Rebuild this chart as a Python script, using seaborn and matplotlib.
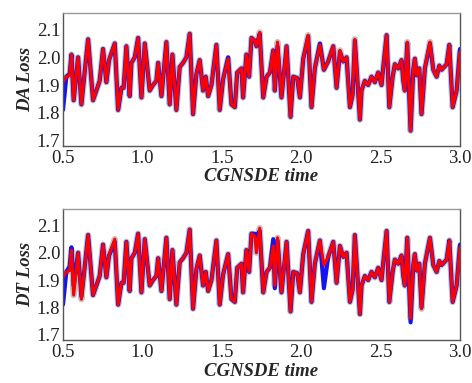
import matplotlib
matplotlib.use("Agg")
import matplotlib.pyplot as plt
import seaborn as sns
import pandas as pd

time = [0.500, 0.521, 0.542, 0.553, 0.567, 0.595, 0.616, 0.637, 0.658, 0.689,
        0.710, 0.731, 0.752, 0.773, 0.790, 0.826, 0.847, 0.868, 0.882, 0.899,
        0.920, 0.931, 0.952, 0.973, 0.994, 1.015, 1.046, 1.067, 1.088, 1.099,
        1.120, 1.151, 1.172, 1.189, 1.214, 1.235, 1.256, 1.277, 1.298, 1.319,
        1.340, 1.361, 1.382, 1.399, 1.414, 1.435, 1.466, 1.487, 1.508, 1.540,
        1.561, 1.582, 1.597, 1.624, 1.634, 1.655, 1.672, 1.687, 1.708, 1.718,
        1.739, 1.761, 1.782, 1.803, 1.824, 1.834, 1.851, 1.876, 1.908, 1.933,
        1.950, 1.975, 1.992, 2.013, 2.044, 2.065, 2.086, 2.118, 2.143, 2.170,
        2.202, 2.223, 2.244, 2.265, 2.286, 2.307, 2.324, 2.338, 2.370, 2.380,
        2.401, 2.422, 2.443, 2.464, 2.485, 2.506, 2.517, 2.538, 2.555, 2.576,
        2.590, 2.611, 2.632, 2.643, 2.653, 2.668, 2.689, 2.706, 2.716, 2.727,
        2.744, 2.758, 2.779, 2.811, 2.832, 2.853, 2.870, 2.884, 2.916, 2.933,
        2.954, 2.979, 3.000]

da_red = [1.910, 1.930, 1.935, 2.010, 1.845, 2.000, 1.830, 1.950, 2.065, 1.845,
          1.880, 1.915, 2.030, 1.910, 1.990, 2.050, 1.810, 1.890, 1.890, 2.040,
          1.860, 1.980, 2.000, 2.070, 1.855, 2.050, 1.880, 1.900, 1.915, 1.980,
          1.860, 2.055, 1.830, 2.010, 1.810, 1.965, 1.980, 2.000, 2.085, 1.795,
          1.940, 1.990, 1.880, 1.930, 1.860, 1.900, 2.045, 1.810, 1.920, 1.995,
          1.830, 1.820, 1.945, 1.960, 1.855, 2.010, 1.930, 2.070, 2.060, 2.040,
          2.090, 1.855, 1.930, 1.945, 2.025, 1.880, 2.055, 1.855, 2.040, 1.785,
          1.930, 1.925, 1.855, 1.995, 2.080, 1.820, 1.960, 2.045, 1.955, 1.985,
          2.040, 1.890, 2.025, 1.985, 2.000, 1.820, 1.865, 2.065, 1.775, 1.880,
          1.915, 1.900, 1.930, 1.910, 1.945, 1.900, 1.965, 2.080, 1.820, 1.930,
          1.975, 1.960, 1.990, 1.915, 1.880, 2.055, 1.735, 1.955, 1.995, 1.935,
          1.960, 1.795, 1.960, 2.055, 1.955, 1.930, 1.970, 1.955, 1.975, 2.045,
          1.820, 1.880, 2.020]

da_blue = [1.810, 1.930, 1.940, 2.010, 1.845, 2.000, 1.830, 1.950, 2.065, 1.845,
           1.880, 1.915, 2.030, 1.910, 1.990, 2.050, 1.810, 1.890, 1.890, 2.040,
           1.860, 1.980, 2.000, 2.070, 1.855, 2.050, 1.880, 1.900, 1.915, 1.980,
           1.860, 2.055, 1.830, 2.010, 1.810, 1.965, 1.980, 2.000, 2.085, 1.795,
           1.940, 1.990, 1.880, 1.930, 1.860, 1.900, 2.045, 1.810, 1.920, 2.000,
           1.830, 1.820, 1.945, 1.960, 1.855, 2.010, 1.930, 2.070, 2.060, 2.040,
           2.085, 1.855, 1.930, 1.945, 2.025, 1.880, 2.040, 1.855, 2.040, 1.785,
           1.930, 1.925, 1.855, 1.995, 2.075, 1.820, 1.960, 2.050, 1.955, 1.985,
           2.040, 1.890, 2.020, 1.985, 2.000, 1.820, 1.865, 2.060, 1.775, 1.880,
           1.915, 1.900, 1.930, 1.910, 1.945, 1.900, 1.965, 2.080, 1.820, 1.930,
           1.975, 1.960, 1.990, 1.915, 1.880, 2.050, 1.735, 1.955, 1.995, 1.935,
           1.960, 1.795, 1.960, 2.050, 1.955, 1.930, 1.970, 1.955, 1.975, 2.045,
           1.820, 1.880, 2.030]

dt_red = [1.910, 1.930, 1.935, 2.010, 1.845, 2.000, 1.830, 1.950, 2.065, 1.845,
          1.880, 1.915, 2.030, 1.910, 1.990, 2.050, 1.810, 1.890, 1.890, 2.040,
          1.860, 1.980, 2.000, 2.070, 1.855, 2.050, 1.880, 1.900, 1.915, 1.980,
          1.860, 2.055, 1.830, 2.010, 1.810, 1.965, 1.980, 2.000, 2.085, 1.795,
          1.940, 1.990, 1.880, 1.930, 1.860, 1.900, 2.045, 1.810, 1.920, 1.995,
          1.830, 1.820, 1.945, 1.960, 1.855, 2.010, 1.930, 2.070, 2.060, 2.000,
          2.090, 1.855, 1.930, 1.945, 2.025, 1.880, 2.055, 1.855, 2.040, 1.785,
          1.930, 1.925, 1.855, 1.995, 2.080, 1.820, 1.960, 2.045, 1.955, 1.985,
          2.040, 1.890, 2.025, 1.985, 2.000, 1.820, 1.865, 2.065, 1.775, 1.880,
          1.915, 1.900, 1.930, 1.910, 1.945, 1.900, 1.965, 2.080, 1.820, 1.930,
          1.975, 1.960, 1.990, 1.915, 1.880, 2.055, 1.760, 1.955, 1.995, 1.935,
          1.960, 1.795, 1.960, 2.055, 1.955, 1.930, 1.970, 1.955, 1.975, 2.045,
          1.820, 1.880, 2.020]

dt_blue = [1.810, 1.930, 1.950, 2.020, 1.880, 2.000, 1.840, 1.950, 2.065, 1.845,
           1.880, 1.915, 2.030, 1.910, 1.990, 2.040, 1.810, 1.890, 1.890, 2.040,
           1.860, 1.980, 2.000, 2.070, 1.855, 2.050, 1.880, 1.900, 1.915, 1.980,
           1.860, 2.055, 1.830, 2.010, 1.810, 1.965, 1.980, 2.000, 2.085, 1.795,
           1.940, 1.990, 1.880, 1.930, 1.860, 1.900, 2.045, 1.810, 1.920, 1.995,
           1.830, 1.820, 1.945, 1.960, 1.855, 2.010, 1.930, 2.070, 2.070, 2.060,
           2.080, 1.855, 1.930, 1.945, 2.050, 1.870, 2.045, 1.855, 2.040, 1.785,
           1.930, 1.925, 1.855, 1.995, 2.080, 1.820, 1.960, 2.045, 1.870, 1.985,
           2.040, 1.890, 2.025, 1.985, 2.000, 1.820, 1.865, 2.065, 1.775, 1.880,
           1.915, 1.900, 1.930, 1.910, 1.945, 1.900, 1.965, 2.080, 1.820, 1.930,
           1.975, 1.960, 1.990, 1.915, 1.880, 2.055, 1.745, 1.955, 1.995, 1.935,
           1.960, 1.800, 1.960, 2.055, 1.955, 1.930, 1.970, 1.955, 1.975, 2.045,
           1.820, 1.880, 2.030]

x_ticks = [0.5, 1.0, 1.5, 2.0, 2.5, 3.0]
y_ticks = [1.7, 1.8, 1.9, 2.0, 2.1]

sns.set_style("white")
plt.rcParams["font.family"] = ["Liberation Serif", "DejaVu Serif"]

fig = plt.figure(figsize=(4.72, 3.83), dpi=100)
ax1 = fig.add_axes([0.1335, 0.619, 0.841, 0.347])
ax2 = fig.add_axes([0.1335, 0.112, 0.841, 0.342])

panels = [(ax1, da_red, da_blue, "DA Loss"), (ax2, dt_red, dt_blue, "DT Loss")]
for ax, red, blue, ylab in panels:
    df = pd.DataFrame({"t": time, "red": red, "blue": blue})
    sns.lineplot(data=df, x="t", y="red", ax=ax, color="#8a8a8a", lw=4.6,
                 alpha=0.5, estimator=None, sort=False)
    sns.lineplot(data=df, x="t", y="blue", ax=ax, color="#1414f0", lw=3.0,
                 estimator=None, sort=False)
    sns.lineplot(data=df, x="t", y="red", ax=ax, color="#ff0000", lw=2.2,
                 estimator=None, sort=False)
    ax.set_xlim(0.5, 3.0)
    ax.set_ylim(1.68, 2.16)
    ax.set_xticks(x_ticks)
    ax.set_xticklabels([f"{v:.1f}" for v in x_ticks])
    ax.set_yticks(y_ticks)
    ax.set_yticklabels([f"{v:.1f}" for v in y_ticks])
    ax.tick_params(direction="in", length=3, width=0.8, labelsize=13.5,
                   colors="#222222")
    ax.tick_params(axis="x", pad=3)
    ax.tick_params(axis="y", pad=2)
    for s in ax.spines.values():
        s.set_color("#555555")
        s.set_linewidth(1.0)
    ax.spines["top"].set_color("#999999")
    ax.set_xlabel("CGNSDE time", fontsize=13.5, fontweight="bold",
                  style="italic", labelpad=1)
    ax.set_ylabel(ylab, fontsize=13.5, fontweight="bold", style="italic",
                  labelpad=2)

fig.savefig("out.png", dpi=100)
